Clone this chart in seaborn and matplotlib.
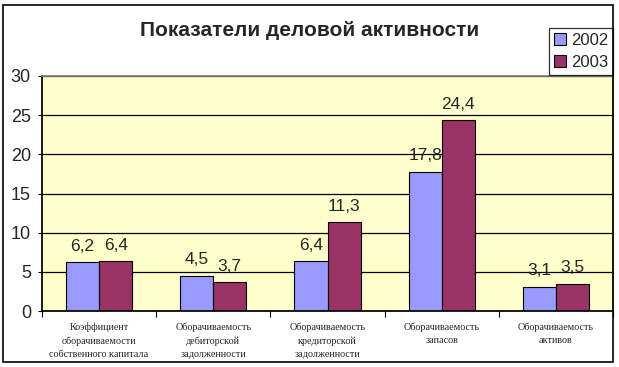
import pandas as pd
import seaborn as sns
import matplotlib.pyplot as plt
from matplotlib.patches import Rectangle

categories = ['Коэффициент\nоборачиваемости\nсобственного капитала',
              'Оборачиваемость\nдебиторской\nзадолженности',
              'Оборачиваемость\nкредиторской\nзадолженности',
              'Оборачиваемость\nзапасов',
              'Оборачиваемость\nактивов']
years = ['2002', '2003']
vals_2002 = [6.2, 4.5, 6.4, 17.8, 3.1]
vals_2003 = [6.4, 3.7, 11.3, 24.4, 3.5]
colors = ['#9999FF', '#993366']

df = pd.DataFrame({
    'cat': categories * 2,
    'year': [years[0]] * 5 + [years[1]] * 5,
    'val': vals_2002 + vals_2003,
})

sns.set_theme(style='white')
plt.rcParams['font.family'] = ['Liberation Sans', 'DejaVu Sans']

fig = plt.figure(figsize=(6.19, 3.67), dpi=100)
ax = fig.add_axes([42/619, 1 - 311/367, 571/619, 235/367])
ax.set_facecolor('#FFFFCC')

sns.barplot(data=df, x='cat', y='val', hue='year', palette=colors, width=0.58,
            edgecolor='black', linewidth=0.8, saturation=1, ax=ax, legend=True)

for cont in ax.containers:
    ax.bar_label(cont, labels=[f'{v:.1f}'.replace('.', ',') for v in cont.datavalues],
                 padding=6, fontsize=12.5)

ax.set_ylim(0, 30)
ax.set_xlim(-0.5, 4.5)
ax.set_yticks(range(0, 31, 5))
ax.yaxis.grid(True, color='black', linewidth=0.9)
ax.set_axisbelow(True)
ax.set_xlabel('')
ax.set_ylabel('')
ax.tick_params(axis='y', labelsize=13, length=3, width=0.8, left=True, color='black', pad=5)
ax.tick_params(axis='x', which='major', length=0, pad=8)
ax.set_xticks([i - 0.5 for i in range(6)], minor=True)
ax.tick_params(axis='x', which='minor', length=4, width=0.8, bottom=True, color='black')
for lab in ax.get_xticklabels():
    lab.set_fontfamily(['Liberation Serif', 'DejaVu Serif'])
    lab.set_fontsize(7.3)
    lab.set_linespacing(1.6)
for side in ['top', 'right']:
    ax.spines[side].set_color('#808080')
ax.spines['left'].set_color('black')
ax.spines['bottom'].set_color('black')

leg = ax.legend(loc='upper right', bbox_to_anchor=(613/619, 1 - 28/367), bbox_transform=fig.transFigure,
                frameon=True, fancybox=False, edgecolor='black', fontsize=12,
                handlelength=0.7, handleheight=0.7, handletextpad=0.3, borderpad=0.3,
                labelspacing=0.4, borderaxespad=0)
leg.get_frame().set_linewidth(0.9)

fig.text(0.5, 1 - 30/367, 'Показатели деловой активности', ha='center', va='center',
         fontsize=15, fontweight='bold')

fig.patches.append(Rectangle((3/619, 5/367), 610/619, 357/367, transform=fig.transFigure,
                             fill=False, edgecolor='black', linewidth=1.2))

fig.savefig('out.png', dpi=100)
